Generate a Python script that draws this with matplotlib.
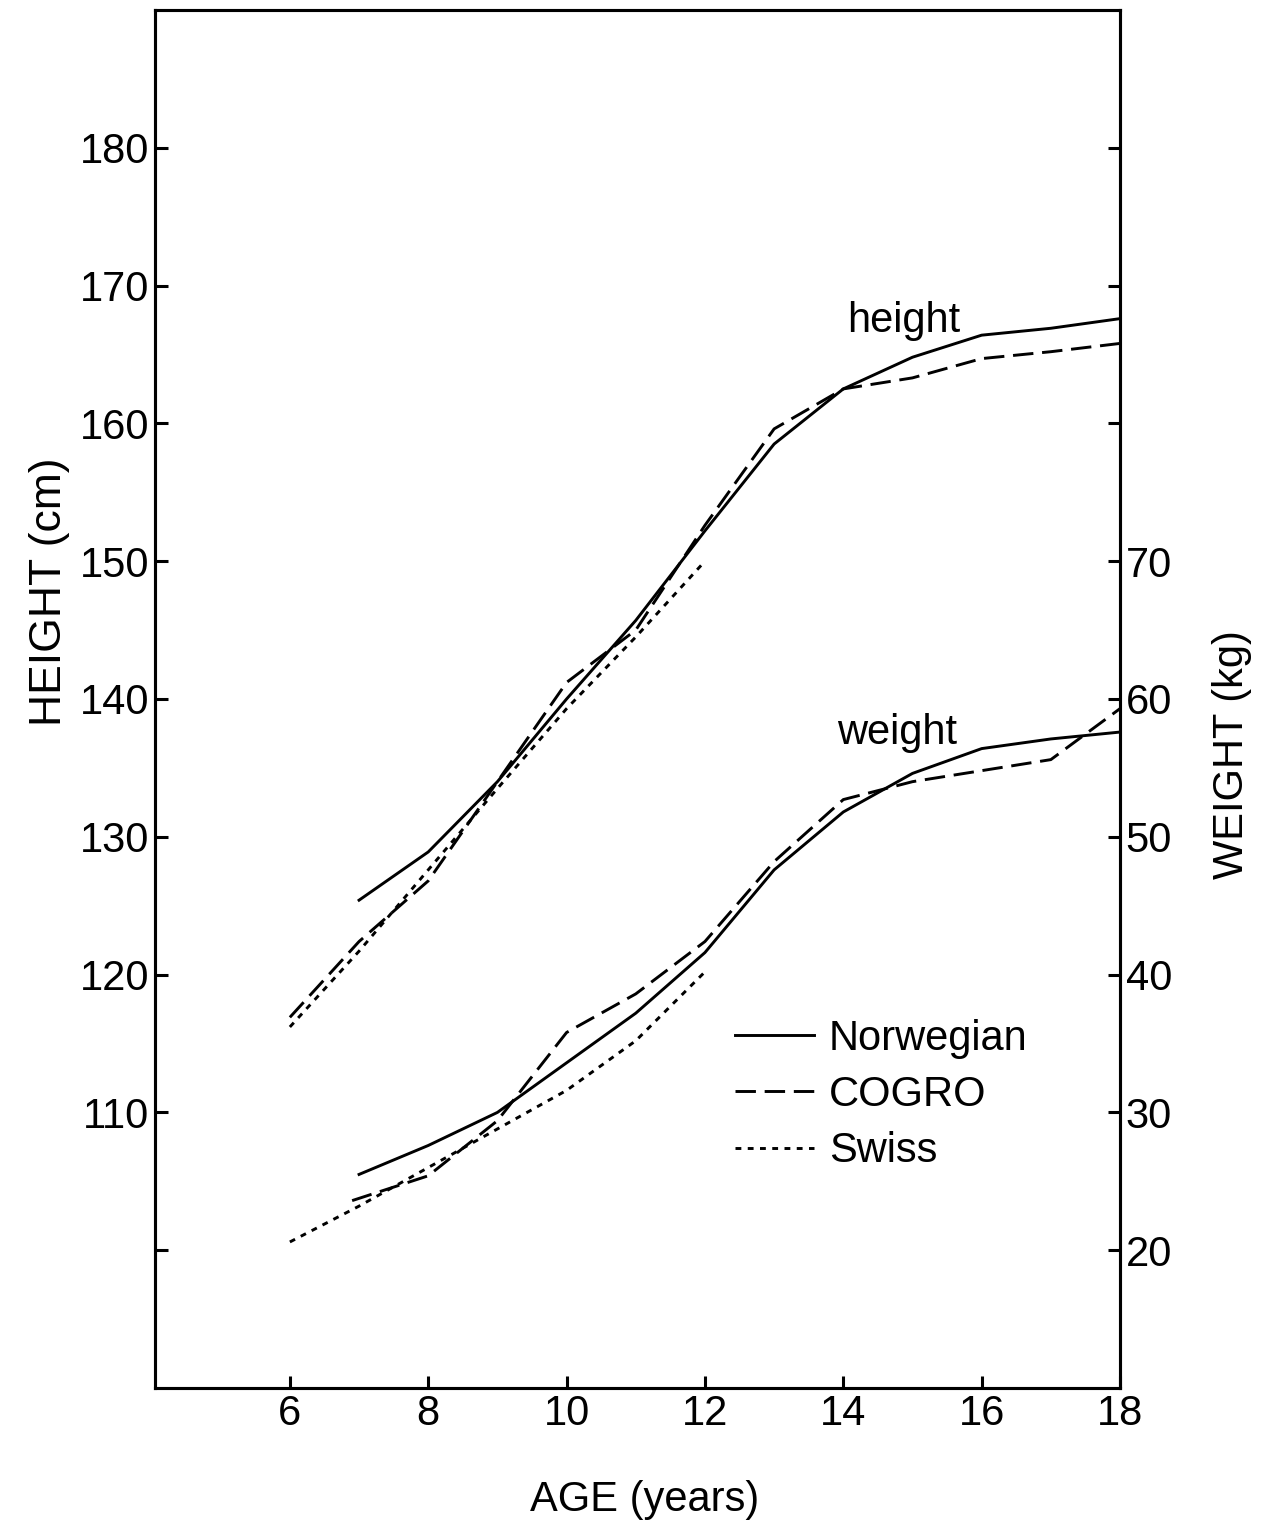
import matplotlib
matplotlib.use('Agg')
import matplotlib.pyplot as plt

plt.rcParams['font.family'] = ['Liberation Sans', 'DejaVu Sans']

# ages
age_nor = [7, 8, 9, 10, 11, 12, 13, 14, 15, 16, 17, 18]
age_cog = [6, 7, 8, 9, 10, 11, 12, 13, 14, 15, 16, 17, 18]
age_swi = [6, 7, 8, 9, 10, 11, 12]
age_cog_w = [6.9, 8, 9, 10, 11, 12, 13, 14, 15, 16, 17, 18]

# height (cm)
h_nor = [125.4, 128.9, 134.0, 140.0, 145.7, 152.2, 158.5, 162.5, 164.8, 166.4, 166.9, 167.6]
h_cog = [116.9, 122.4, 126.8, 134.0, 141.2, 145.0, 152.6, 159.6, 162.5, 163.3, 164.7, 165.2, 165.8]
h_swi = [116.2, 121.7, 127.6, 133.5, 139.3, 144.5, 150.0]

# weight (kg)
w_nor = [25.5, 27.6, 30.0, 33.6, 37.2, 41.6, 47.6, 51.8, 54.6, 56.4, 57.1, 57.6]
w_cog = [23.6, 25.4, 29.4, 35.8, 38.6, 42.4, 48.2, 52.7, 54.0, 54.8, 55.6, 59.3]
w_swi = [20.6, 23.2, 26.0, 28.8, 31.6, 35.2, 40.2]

xticks = [6, 8, 10, 12, 14, 16, 18]
h_ticks = [100, 110, 120, 130, 140, 150, 160, 170, 180]
h_labels = ['', '110', '120', '130', '140', '150', '160', '170', '180']
w_ticks = [20, 30, 40, 50, 60, 70, 80, 90, 100]
w_labels = ['20', '30', '40', '50', '60', '70', '', '', '']

fig = plt.figure(figsize=(12.61, 15.28), dpi=100)
ax = fig.add_axes([0.1229, 0.0916, 0.7653, 0.9019])
ax2 = ax.twinx()

lw = 2.1
dash = (0, (7, 3))
dot = (0, (2, 2.2))

ax.plot(age_nor, h_nor, color='black', lw=lw, linestyle='-', label='Norwegian')
ax.plot(age_cog, h_cog, color='black', lw=lw, linestyle=dash, label='COGRO')
ax.plot(age_swi, h_swi, color='black', lw=lw, linestyle=dot, label='Swiss')

ax2.plot(age_nor, w_nor, color='black', lw=lw, linestyle='-')
ax2.plot(age_cog_w, w_cog, color='black', lw=lw, linestyle=dash)
ax2.plot(age_swi, w_swi, color='black', lw=lw, linestyle=dot)

ax.set_xlim(4.05, 18)
ax.set_ylim(90, 190)
ax2.set_ylim(10, 110)

ax.set_xticks(xticks)
ax.set_yticks(h_ticks)
ax.set_yticklabels(h_labels)
ax2.set_yticks(w_ticks)
ax2.set_yticklabels(w_labels)

for a in (ax, ax2):
    for s in a.spines.values():
        s.set_linewidth(2.2)
    a.tick_params(direction='in', length=9, width=2.2, labelsize=30, pad=4)

ax.text(14.88, 167.4, 'height', fontsize=30, ha='center', va='center')
ax.text(14.77, 137.5, 'weight', fontsize=30, ha='center', va='center')

ax.legend(loc='upper left', bbox_to_anchor=(0.601, 0.268), frameon=False,
          fontsize=30, handlelength=1.9, handletextpad=0.35,
          labelspacing=0.39, borderpad=0, borderaxespad=0)

fig.text(0.039, 0.613, 'HEIGHT (cm)', rotation=90, fontsize=32, ha='center', va='center')
fig.text(0.977, 0.506, 'WEIGHT (kg)', rotation=90, fontsize=30, ha='center', va='center')
fig.text(0.511, 0.018, 'AGE (years)', fontsize=30, ha='center', va='center')

fig.savefig('out.png', dpi=100)
